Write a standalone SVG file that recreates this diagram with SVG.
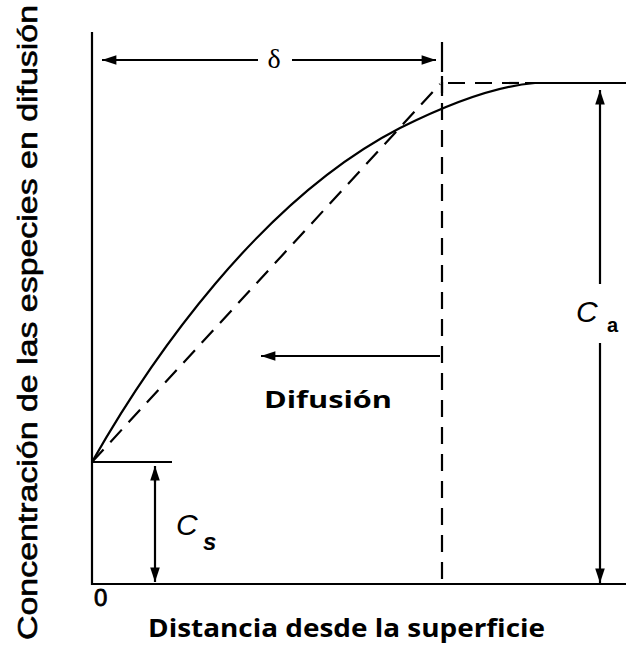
<svg xmlns="http://www.w3.org/2000/svg" width="626" height="651" viewBox="0 0 626 651">
<defs>
<style>
.ln{stroke:#000;stroke-width:2.2;fill:none}
.dash{stroke:#000;stroke-width:2.2;fill:none;stroke-dasharray:17 10}
.lbl{font-family:"Liberation Sans",Arial,sans-serif;fill:#000}
.sym{font-family:"Liberation Sans",Arial,sans-serif;font-style:italic;fill:#000}
.cal{font-family:"Open Sans","Liberation Sans",sans-serif;font-weight:bold;fill:#000}
</style>
<marker id="ahw" viewBox="0 0 12 10" refX="12" refY="5" markerWidth="16" markerHeight="12" markerUnits="userSpaceOnUse" orient="auto-start-reverse">
<path d="M0,1 L12,5 L0,9 z" fill="#000"/>
</marker>
</defs>
<rect width="626" height="651" fill="#fff"/>
<g id="axes">
<line class="ln" x1="92" y1="32" x2="92" y2="585"/>
<line class="ln" x1="91" y1="584" x2="626" y2="584"/>
</g>
<g id="connectors">
<line class="ln" x1="442" y1="42" x2="442" y2="72"/>
<line class="dash" x1="442" y1="76" x2="442" y2="584"/>
<line class="ln" x1="442" y1="82" x2="442" y2="96"/>
<line class="dash" x1="92" y1="462" x2="440" y2="84"/>
<line class="dash" x1="448" y1="83" x2="522" y2="83"/>
<line class="ln" x1="525" y1="83" x2="626" y2="83"/>
<path class="ln" d="M92,462 C150,360 260,200 400,128 C450,103 495,86 535,83"/>
<line class="ln" x1="92" y1="462" x2="172" y2="462"/>
<line class="ln" x1="258" y1="60" x2="102" y2="60" marker-end="url(#ahw)"/>
<line class="ln" x1="292" y1="60" x2="436" y2="60" marker-end="url(#ahw)"/>
<line class="ln" x1="155" y1="482" x2="155" y2="466" marker-end="url(#ahw)"/>
<line class="ln" x1="155" y1="470" x2="155" y2="582" marker-end="url(#ahw)"/>
<line class="ln" x1="600" y1="284" x2="600" y2="90" marker-end="url(#ahw)"/>
<line class="ln" x1="600" y1="343" x2="600" y2="583" marker-end="url(#ahw)"/>
<line class="ln" x1="440" y1="356" x2="261" y2="356" marker-end="url(#ahw)"/>
</g>
<g id="labels">
<text x="274" y="68" font-size="28" text-anchor="middle" font-family="'Liberation Serif',serif" fill="#000">δ</text>
<text class="sym" x="176" y="535" font-size="30">C</text>
<text class="sym" x="203" y="550" font-size="24" font-weight="bold">s</text>
<text class="sym" x="576" y="322" font-size="30">C</text>
<text class="lbl" x="607" y="332" font-size="20" font-weight="bold">a</text>
<text class="lbl" x="94" y="606" font-size="24" stroke="#000" stroke-width="0.8">0</text>
<text class="cal" x="264" y="408" font-size="23" textLength="128" lengthAdjust="spacingAndGlyphs">Difusión</text>
<text class="cal" x="148" y="637" font-size="25" textLength="397" lengthAdjust="spacingAndGlyphs">Distancia desde la superficie</text>
<text class="lbl" transform="translate(37,640) rotate(-90)" font-size="27" stroke="#000" stroke-width="0.6" textLength="635" lengthAdjust="spacingAndGlyphs">Concentración de las especies en difusión</text>
</g>
</svg>
